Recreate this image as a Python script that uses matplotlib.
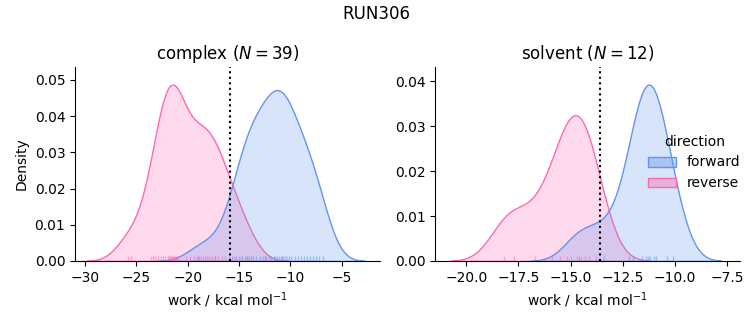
import numpy as np
import pandas as pd
import seaborn as sns
import matplotlib
matplotlib.use("Agg")
import matplotlib.pyplot as plt
from matplotlib.patches import Patch

# work values (kcal/mol)
complex_forward = [-19.0, -17.3, -15.7, -15.3, -15.0, -14.7, -14.4, -14.2, -14.0, -13.8,
                   -13.6, -13.3, -13.0, -12.7, -12.5, -12.4, -12.1, -11.9, -11.6, -11.5,
                   -11.3, -11.1, -10.9, -10.8, -10.7, -10.5, -10.3, -10.1, -9.9, -9.6,
                   -9.3, -9.0, -8.7, -8.4, -8.1, -7.8, -7.5, -7.2, -6.8]
complex_reverse = [-25.8, -25.5, -23.6, -23.4, -23.2, -22.9, -22.6, -22.4, -22.2, -21.9,
                   -21.8, -21.7, -21.6, -21.5, -21.4, -21.3, -21.2, -21.1, -21.0, -20.9,
                   -20.2, -19.8, -19.4, -19.1, -18.9, -18.7, -18.5, -18.3, -18.1, -17.9,
                   -17.6, -17.3, -17.0, -16.7, -16.4, -16.0, -15.5, -14.8, -14.2]
solvent_forward = [-14.6, -13.4, -12.2, -12.0, -11.6, -11.4, -11.3, -11.2, -11.0, -10.9, -10.4, -10.1]
solvent_reverse = [-18.2, -17.7, -16.7, -15.9, -15.5, -15.2, -15.0, -14.7, -14.5, -14.3, -14.1, -13.8]

# free energy estimates (dotted lines)
dG = {"complex": -15.9, "solvent": -13.6}
xlims = {"complex": (-30.97, -1.28), "solvent": (-21.48, -6.89)}

colors = {"forward": "cornflowerblue", "reverse": "hotpink"}

df = pd.concat([
    pd.DataFrame({"work": complex_forward, "direction": "forward", "phase": "complex"}),
    pd.DataFrame({"work": complex_reverse, "direction": "reverse", "phase": "complex"}),
    pd.DataFrame({"work": solvent_forward, "direction": "forward", "phase": "solvent"}),
    pd.DataFrame({"work": solvent_reverse, "direction": "reverse", "phase": "solvent"}),
], ignore_index=True)

g = sns.displot(data=df, x="work", hue="direction", col="phase", kind="kde", fill=True,
                rug=True, palette=colors, legend=False, height=3, aspect=1.2,
                rug_kws=dict(alpha=0.5, lw=1),
                facet_kws=dict(sharex=False, sharey=False))
fig = g.figure
fig.set_size_inches(7.53, 3.25)

ax1, ax2 = g.axes.flat
ax1.set_position([0.0996, 0.197, 0.405, 0.597])
ax2.set_position([0.578, 0.197, 0.405, 0.597])

for ax, phase in [(ax1, "complex"), (ax2, "solvent")]:
    n = (df.phase == phase).sum() // 2
    ax.axvline(dG[phase], color="k", ls=":", lw=1.5)
    ax.set_xlim(*xlims[phase])
    ax.set_title(phase + r" ($N=%d$)" % n)
    ax.set_xlabel(r"work / kcal mol$^{-1}$")

ax1.set_ylabel("Density")
ax2.set_ylabel("")

handles = [Patch(facecolor=matplotlib.colors.to_rgba(colors[d], 0.4), edgecolor=colors[d], label=d)
           for d in ["forward", "reverse"]]
fig.legend(handles=handles, title="direction", loc="center", bbox_to_anchor=(0.922, 0.5),
           frameon=False)
fig.suptitle("RUN306", y=0.985)

fig.savefig("out.png", dpi=100)
